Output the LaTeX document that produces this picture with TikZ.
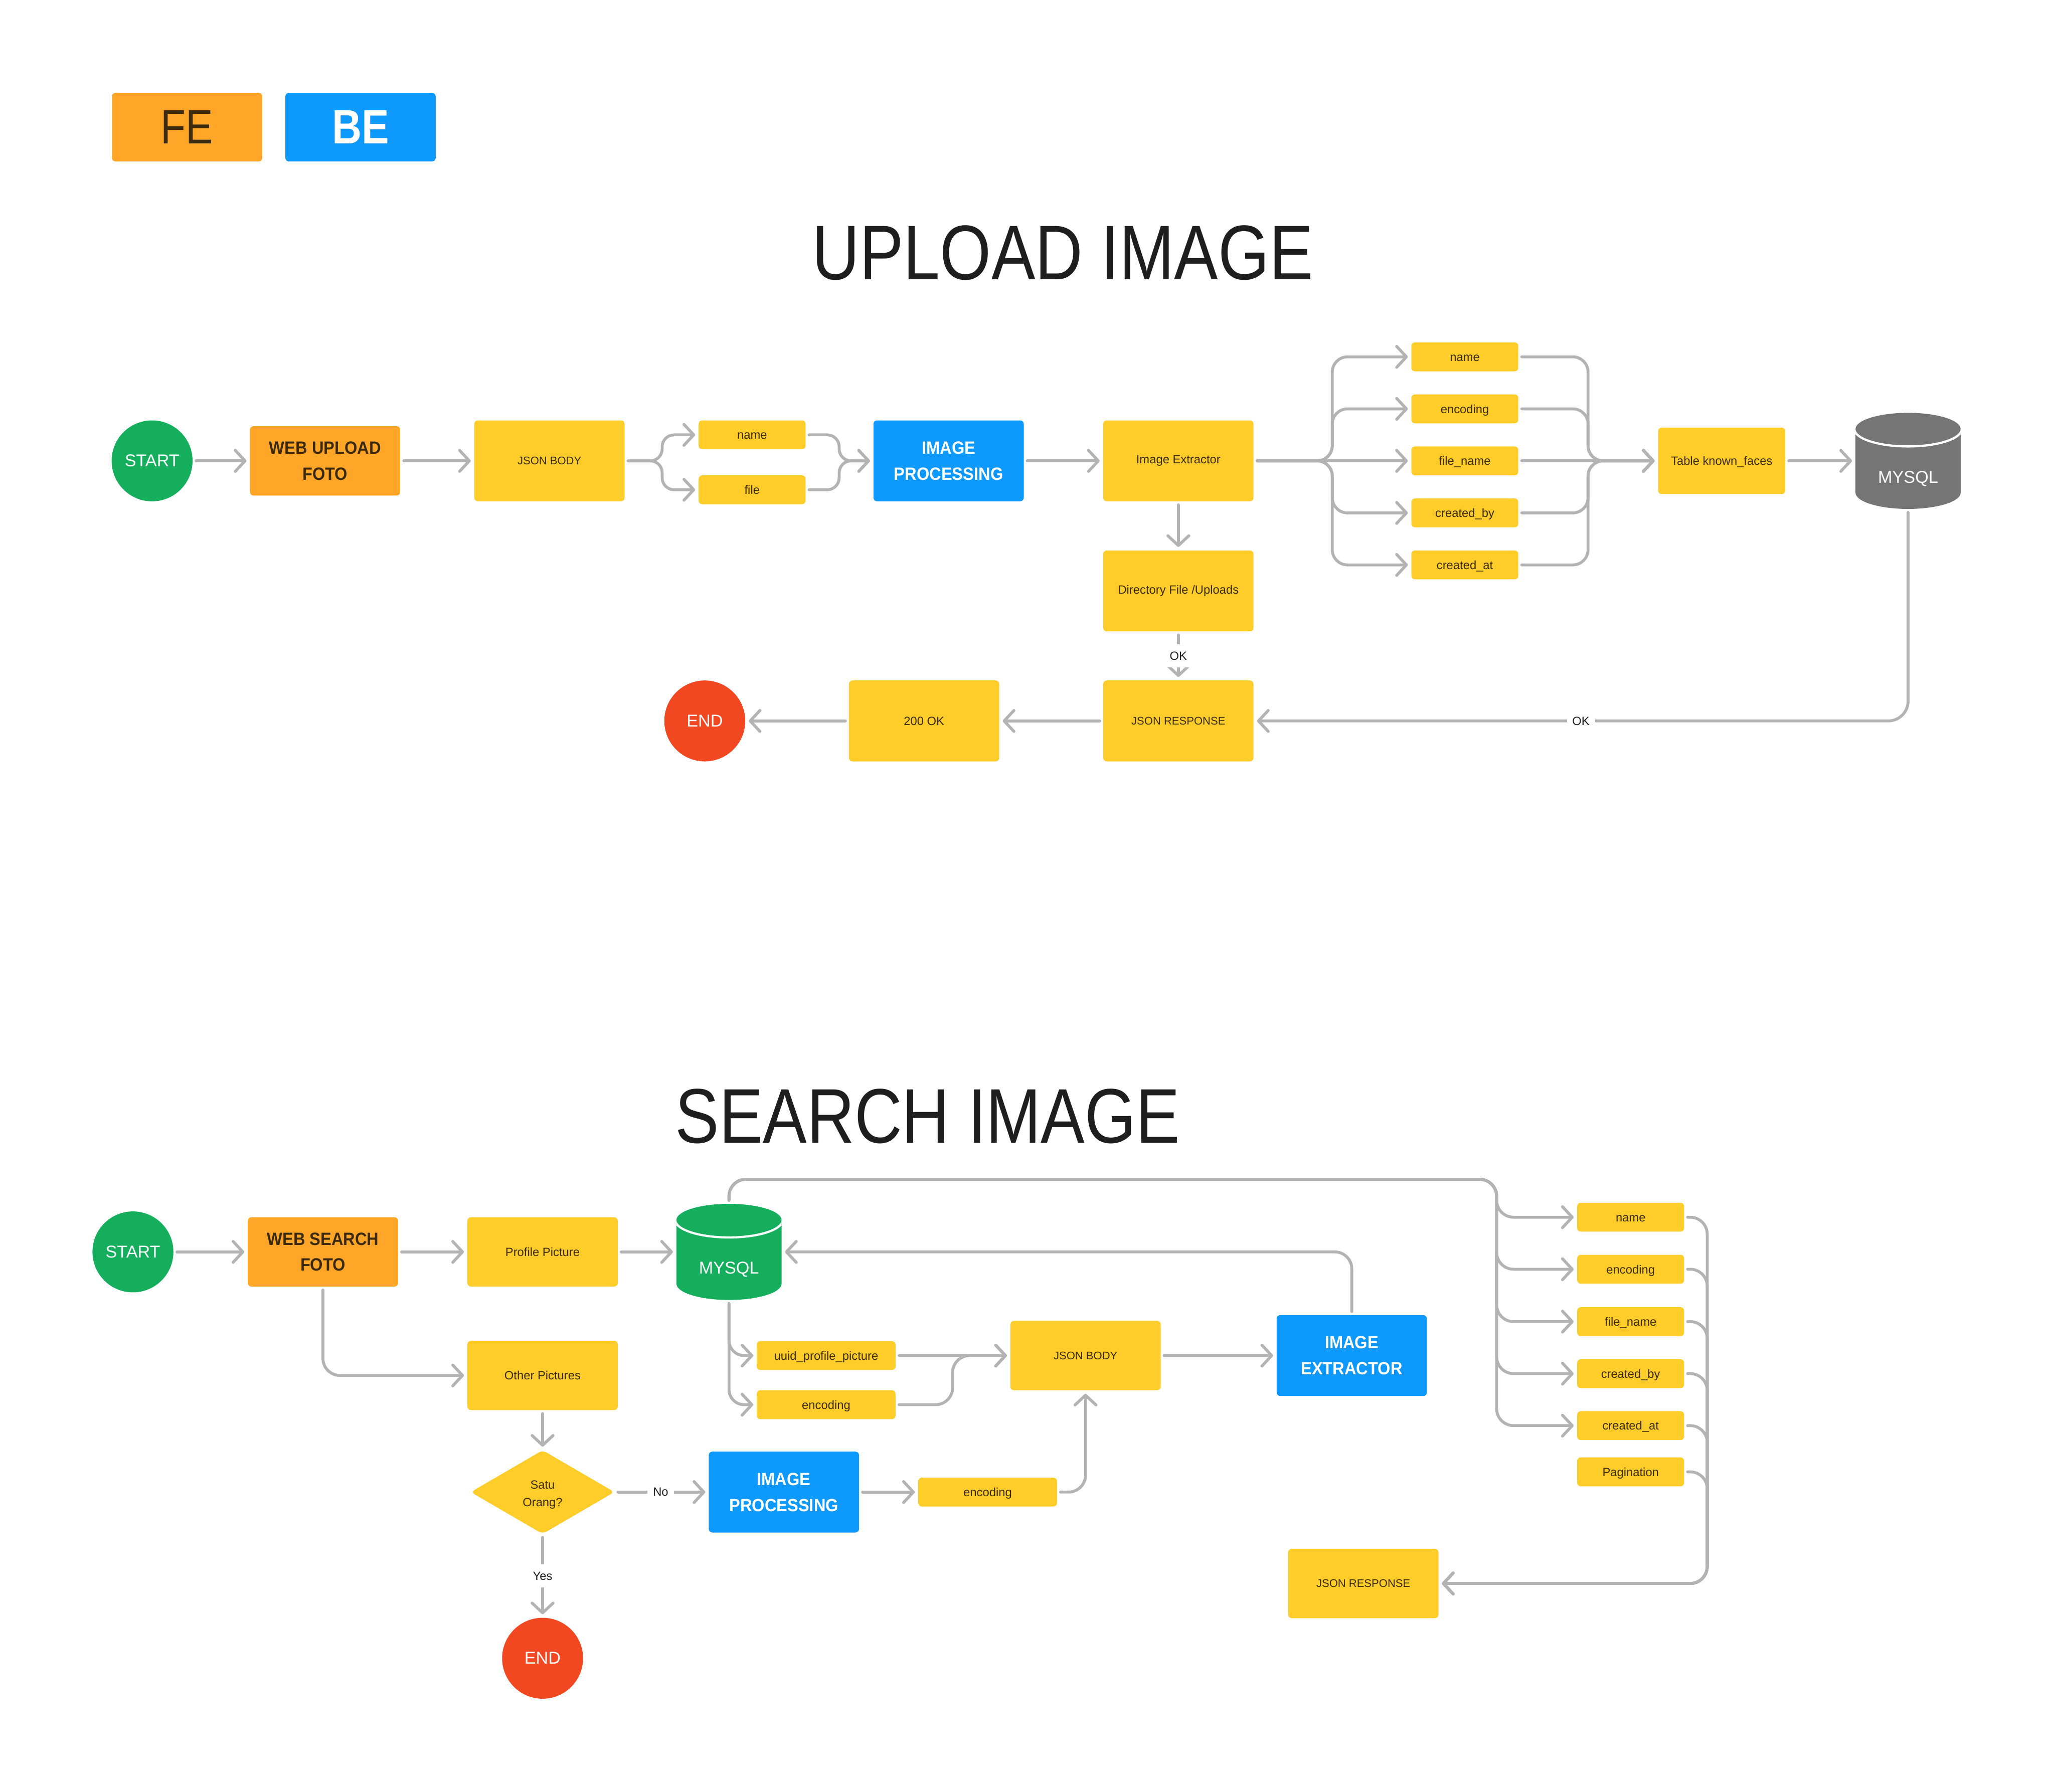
\documentclass[tikz,border=0pt]{standalone}
\usepackage{fontspec}
\setmainfont{Liberation Sans}
\newfontfamily\titlefont[FakeStretch=0.85]{Liberation Sans}
\newfontfamily\boxfont[FakeStretch=0.92]{Liberation Sans}
\usetikzlibrary{arrows.meta,shapes.geometric}
\definecolor{figyellow}{HTML}{FFCD29}
\definecolor{figorange}{HTML}{FFA629}
\definecolor{figblue}{HTML}{0D99FF}
\definecolor{figgreen}{HTML}{14AE5C}
\definecolor{figred}{HTML}{F24822}
\definecolor{figgray}{HTML}{757575}
\definecolor{linegray}{HTML}{B3B3B3}
\definecolor{inkdark}{HTML}{3A2A10}
\definecolor{titledark}{HTML}{1E1E1E}

\begin{document}
\begin{tikzpicture}
        \tikzset{
        smalltext/.style = {font=\fontsize{9.4}{13.7}\selectfont, text=inkdark},
        capstext/.style = {font=\fontsize{8.7}{13.7}\selectfont},
        bigtext/.style = {font=\boxfont\bfseries\fontsize{14}{20.5}\selectfont, align=center},
        box/.style = {rectangle, rounded corners=.1cm, inner sep=0pt, minimum width=4.16cm, align=center},
        yellowbox/.style = {box, smalltext, fill=figyellow, minimum height=#1},
        yellowbox/.default = 2.24cm,
        field/.style = {box, smalltext, fill=figyellow, minimum width=2.96cm, minimum height=.8cm, text height=.27cm, text depth=.03cm},
        fieldw/.style = {field, minimum width=3.84cm},
        febox/.style = {box, bigtext, fill=figorange, text=inkdark, minimum height=1.92cm},
        bebox/.style = {box, bigtext, fill=figblue, text=white, minimum height=2.24cm},
        startnode/.style = {circle, inner sep=0pt, minimum size=2.24cm, fill=figgreen, text=white, font=\fontsize{13.5}{16}\selectfont},
        endnode/.style = {startnode, fill=figred},
        legend/.style = {box, minimum height=1.9cm, font=\titlefont\fontsize{38}{46}\selectfont},
        heading/.style = {inner sep=0pt, text=titledark, font=\titlefont\fontsize{61}{70}\selectfont},
        decision/.style = {diamond, rounded corners=.12cm, inner sep=0pt, minimum width=3.98cm, minimum height=2.32cm, fill=figyellow,
            label={[smalltext, align=center, yshift=-.07cm]center:#1}},
        tag/.style = {fill=white, smalltext, text=titledark, inner xsep=.15cm, inner ysep=.2cm, rounded corners=0pt},
        db/.style = {rectangle, inner sep=0pt, minimum width=2.91cm, minimum height=2.66cm,
            label={[yshift=-.49cm, text=white, font=\fontsize{13.5}{16}\selectfont]center:MYSQL},
            path picture={
                \begin{scope}[shift={(path picture bounding box.center)}]
                \fill[#1] (-1.455,.88) -- (-1.455,-.88) arc[start angle=180, end angle=360, x radius=1.455, y radius=.45] -- (1.455,.88) arc[start angle=0, end angle=180, x radius=1.455, y radius=.45] -- cycle;
                \draw[white, line width=.06cm] (-1.485,.88) arc[start angle=180, end angle=360, x radius=1.485, y radius=.48];
                \end{scope}}},
        link/.style = {draw=linegray, line width=.08cm, line cap=round, rounded corners=.47cm, shorten <=.09cm, shorten >=.09cm,
            -{Straight Barb[length=.27cm, width=.58cm, round]}}
        }
        \useasboundingbox (0,0) rectangle (56.86,-49.6);

        \node[legend, fill=figorange, text=inkdark] (fe) at (5.18,-3.52) {FE};
        \node[legend, fill=figblue, text=white, font=\titlefont\bfseries\fontsize{38}{46}\selectfont] (be) at (9.98,-3.52) {BE};
        \node[heading] (titleup) at (29.42,-7.0) {UPLOAD IMAGE};
        \node[heading] (titlese) at (25.68,-30.9) {SEARCH IMAGE};

        \node[startnode] (startA) at (4.21,-12.76) {START};
        \node[febox] (webA) at (9.0,-12.76) {WEB UPLOAD\\FOTO};
        \node[yellowbox, capstext] (jsonA) at (15.21,-12.76) {JSON BODY};
        \node[field] (nameJ) at (20.82,-12.04) {name};
        \node[field] (fileJ) at (20.82,-13.56) {file};
        \node[bebox] (procA) at (26.26,-12.76) {IMAGE\\PROCESSING};
        \node[yellowbox] (extractA) at (32.62,-12.76) {Image Extractor};
        \node[yellowbox] (dirA) at (32.62,-16.36) {Directory File /Uploads};
        \node[yellowbox, capstext] (respA) at (32.62,-19.96) {JSON RESPONSE};
        \node[yellowbox] (okA) at (25.58,-19.96) {200 OK};
        \node[endnode] (endA) at (19.51,-19.96) {END};
        \node[field, minimum width=3.52cm, minimum height=1.84cm] (tableA) at (47.66,-12.76) {Table known\_faces};
        \node[db=figgray] (dbA) at (52.82,-12.76) {};

        \foreach \id/\y/\txt in {fnameA/9.88/name, fencA/11.32/encoding, ffileA/12.76/file\_name, fbyA/14.2/created\_by, fatA/15.64/created\_at}
            \node[field] (\id) at (40.55,-\y) {\txt};

        \coordinate (splitJ) at (18.33,-12.76);
        \coordinate (joinJ) at (23.23,-12.76);
        \coordinate (splitA) at (36.88,-12.76);
        \coordinate (joinA) at (43.96,-12.76);

        \foreach \a/\b in {startA/webA, webA/jsonA, procA/extractA, extractA/ffileA, ffileA/tableA, tableA/dbA}
            \draw[link] (\a.east) -- (\b.west);
        \foreach \f in {nameJ, fileJ} {
            \draw[link, rounded corners=.33cm] (jsonA.east) -- (splitJ) |- (\f.west);
            \draw[link, rounded corners=.33cm] (\f.east) -| (joinJ) -- (procA.west);
        }
        \foreach \f in {fnameA, fencA, fbyA, fatA} {
            \draw[link, rounded corners=.42cm] (extractA.east) -- (splitA) |- (\f.west);
            \draw[link, rounded corners=.42cm] (\f.east) -| (joinA) -- (tableA.west);
        }
        \draw[link] (extractA.south) -- (dirA.north);
        \draw[link] (dirA.south) -- node[tag, pos=.5] (tagdir) {OK} (respA.north);
        \draw[link] (respA.west) -- (okA.east);
        \draw[link] (okA.west) -- (endA.east);
        \draw[link, rounded corners=.55cm] (dbA.south) |- node[tag, pos=.75, inner ysep=.05cm] (tagdb) {OK} (respA.east);

        \node[startnode] (startB) at (3.68,-34.66) {START};
        \node[febox] (webB) at (8.94,-34.66) {WEB SEARCH\\FOTO};
        \node[yellowbox=1.92cm] (profileB) at (15.02,-34.66) {Profile Picture};
        \node[db=figgreen] (dbB) at (20.18,-34.66) {};
        \node[yellowbox=1.92cm] (otherB) at (15.02,-38.08) {Other Pictures};
        \node[decision={Satu\\Orang?}] (oneB) at (15.02,-41.31) {};
        \node[endnode] (endB) at (15.02,-45.91) {END};
        \node[bebox] (procB) at (21.7,-41.31) {IMAGE\\PROCESSING};
        \node[fieldw] (encC) at (27.34,-41.31) {encoding};
        \node[fieldw] (uuidB) at (22.87,-37.53) {uuid\_profile\_picture};
        \node[fieldw] (encB) at (22.87,-38.89) {encoding};
        \node[yellowbox=1.92cm, capstext] (jsonB) at (30.05,-37.53) {JSON BODY};
        \node[bebox] (extractB) at (37.42,-37.53) {IMAGE\\EXTRACTOR};
        \node[yellowbox=1.92cm, capstext] (respB) at (37.74,-43.84) {JSON RESPONSE};

        \foreach \id/\y/\txt in {fnameB/33.7/name, fencB/35.14/encoding, ffileB/36.59/file\_name, fbyB/38.03/created\_by, fatB/39.47/created\_at, fpageB/40.75/Pagination}
            \node[field] (\id) at (45.14,-\y) {\txt};

        \coordinate (splitB) at (41.43,-32.65);
        \coordinate (joinB) at (26.37,-37.53);
        \coordinate (joinC) at (47.26,-43.84);

        \foreach \a/\b in {startB/webB, webB/profileB, profileB/dbB, uuidB/jsonB, jsonB/extractB}
            \draw[link] (\a.east) -- (\b.west);
        \draw[link] (webB.south) |- (otherB.west);
        \draw[link] (otherB.south) -- (oneB.north);
        \draw[link] (oneB.east) -- node[tag, pos=.49, inner ysep=.05cm] (tagno) {No} (procB.west);
        \draw[link] (oneB.south) -- node[tag, pos=.5] (tagyes) {Yes} (endB.north);
        \draw[link] (procB.east) -- (encC.west);
        \draw[link] (encC.east) -| (jsonB.south);
        \draw[link] (encB.east) -| (joinB) -- (jsonB.west);
        \draw[link] (extractB.north) |- (dbB.east);
        \foreach \f in {uuidB, encB}
            \draw[link, rounded corners=.42cm] (dbB.south) |- (\f.west);
        \foreach \f in {fnameB, fencB, ffileB, fbyB, fatB}
            \draw[link] (dbB.north) |- (splitB) |- (\f.west);
        \foreach \f in {fnameB, fencB, ffileB, fbyB, fatB, fpageB}
            \draw[link] (\f.east) -| (joinC) -- (respB.east);
    \end{tikzpicture}
\end{document}
